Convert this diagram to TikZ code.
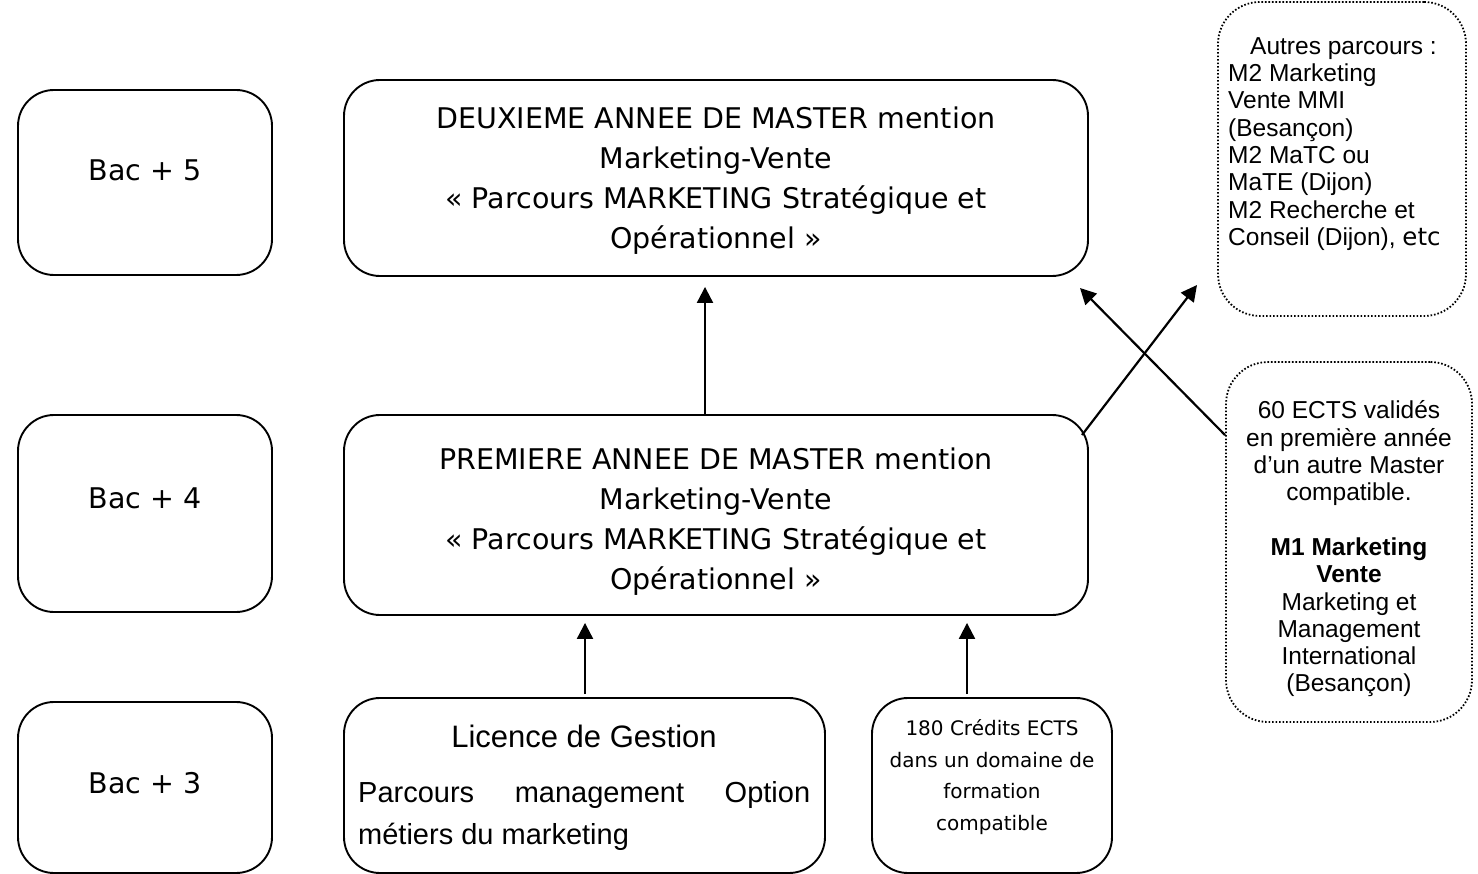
\documentclass[tikz,border=0pt]{standalone}
\usepackage{fontspec}
\setmainfont{Liberation Sans}
\newfontfamily\comic{DejaVu Sans}
\usetikzlibrary{arrows.meta,calc}
\begin{document}
\begin{tikzpicture}[x=1pt,y=-1pt,
  box/.style={draw,line width=1.9pt,rounded corners=36pt,inner sep=0pt},
  dotbox/.style={draw,line width=1.8pt,dash pattern=on 1.6pt off 1.9pt,rounded corners=42pt,inner sep=0pt},
  arr/.style={line width=2.2pt,-{Triangle[length=16pt,width=16pt]}},
  big/.style={font=\comic\fontsize{28.5}{40}\selectfont,align=center,inner sep=0pt},
  small/.style={font=\comic\fontsize{20}{31.5}\selectfont,align=center,inner sep=0pt},
  side/.style={font=\fontsize{24.5}{27.3}\selectfont,inner sep=0pt}
]
\useasboundingbox (0,0) rectangle (1478,874);
% left column
\node[box,minimum width=254pt,minimum height=185pt] (b5) at (145,182.5) {};
\node[box,minimum width=254pt,minimum height=197pt] (b4) at (145,513.5) {};
\node[box,minimum width=254pt,minimum height=171pt] (b3) at (145,787.5) {};
\node[big] (t5) at (145,170) {Bac + 5};
\node[big] (t4) at (145,498) {Bac + 4};
\node[big] (t3) at (145,783) {Bac + 3};
% main boxes
\node[box,minimum width=744pt,minimum height=196pt] (m2) at (716,178) {};
\node[box,minimum width=744pt,minimum height=200pt] (m1) at (716,515) {};
\node[big] (tm2) at (716,181) {DEUXIEME ANNEE DE MASTER mention\\Marketing-Vente\\« Parcours MARKETING Stratégique et\\Opérationnel »};
\node[big] (tm1) at (716,522) {PREMIERE ANNEE DE MASTER mention\\Marketing-Vente\\« Parcours MARKETING Stratégique et\\Opérationnel »};
% bottom boxes
\node[box,minimum width=481pt,minimum height=175pt] (lic) at (584.5,785.5) {};
\node[box,minimum width=240pt,minimum height=175pt] (cr) at (992,785.5) {};
\node[font=\fontsize{31}{36}\selectfont,inner sep=0pt] (tlic) at (584,736) {Licence de Gestion};
\node[font=\fontsize{29}{42}\selectfont,align=left,anchor=west,inner sep=0pt] (tpar) at (358,816)
  {\hbox to 452pt{Parcours\hfill management\hfill Option}\\métiers du marketing};
\node[small] (tcr) at (992,777) {180 Crédits ECTS\\dans un domaine de\\formation\\compatible};
% right dotted boxes
\node[dotbox,minimum width=248pt,minimum height=314pt] (aut) at (1342,159) {};
\node[dotbox,minimum width=246pt,minimum height=360pt] (ects) at (1349,542) {};
\node[side,align=left,anchor=west] (taut) at (1228,144)
  {\hspace*{22pt}Autres parcours :\\M2 Marketing\\Vente MMI\\(Besançon)\\M2 MaTC ou\\MaTE (Dijon)\\M2 Recherche et\\Conseil (Dijon), {\comic etc}};
\node[side,align=center] (tects) at (1349,549)
  {60 ECTS validés\\en première année\\d’un autre Master\\compatible.\\[27.3pt]\textbf{M1 Marketing}\\\textbf{Vente}\\Marketing et\\Management\\International\\(Besançon)};
% arrows
\coordinate (x705) at (705,0);
\coordinate (x585) at (585,0);
\coordinate (x967) at (967,0);
\draw[arr] (m1.north -| x705) -- ($(m2.south -| x705)+(0,10)$);
\draw[arr] ($(lic.north -| x585)+(0,-3)$) -- ($(m1.south -| x585)+(0,7)$);
\draw[arr] ($(cr.north -| x967)+(0,-3)$) -- ($(m1.south -| x967)+(0,7)$);
\coordinate (c1s) at (1082,435);
\coordinate (c1e) at (1197,285);
\coordinate (c2s) at (1225,435);
\coordinate (c2e) at (1080,288);
\draw[arr] (c1s) -- (c1e);
\draw[arr] (c2s) -- (c2e);
\end{tikzpicture}
\end{document}
